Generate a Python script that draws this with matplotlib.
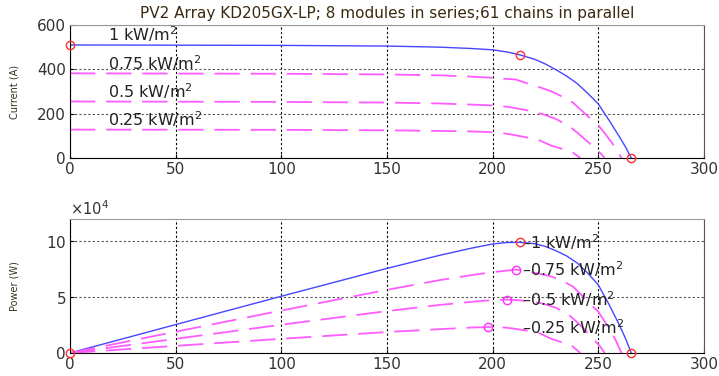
import numpy as np
import matplotlib
matplotlib.use('Agg')
import matplotlib.pyplot as plt
from matplotlib.ticker import ScalarFormatter

# I-V and P-V curves of the array at four irradiance levels
v_1000 = [0, 50, 100, 150, 175, 190, 200, 207, 213, 220, 225, 230, 235, 240, 245, 250, 255, 260, 263, 265.6]
i_1000 = [510, 509, 508, 505, 500, 494, 488, 478, 465, 445, 424, 398, 370, 336, 292, 244, 172, 96, 48, 0]
p_1000 = [0, 25450, 50800, 75750, 87500, 93860, 97600, 98950, 99045, 97900, 95400, 91540, 86950, 80640,
          71540, 61000, 43860, 24960, 12620, 0]

v_750 = [0, 50, 100, 150, 175, 190, 200, 205, 211, 216, 222, 228, 234, 238, 242, 246, 250, 254, 258, 261]
i_750 = [382, 381, 380, 377, 373, 367, 362, 358, 354, 338, 320, 300, 272, 250, 215, 180, 148, 100, 48, 0]
p_750 = [0, 19050, 38000, 56550, 65275, 69730, 72400, 73390, 74694, 73008, 71040, 68400, 63648, 59500,
         52030, 44280, 37000, 25400, 12384, 0]

v_500 = [0, 50, 100, 150, 175, 190, 200, 207, 212, 218, 224, 230, 236, 240, 244, 248, 251, 253]
i_500 = [255, 254, 253, 250, 246, 241, 237, 231, 223, 212, 197, 176, 145, 115, 82, 48, 22, 0]
p_500 = [0, 12700, 25300, 37500, 43050, 45790, 47400, 47817, 47276, 46216, 44128, 40480, 34220, 27600,
         20008, 11904, 5522, 0]

v_250 = [0, 50, 100, 150, 175, 190, 198, 205, 210, 216, 222, 228, 234, 238, 241.5]
i_250 = [128, 127.5, 127, 125, 122, 120, 117, 112, 104, 93, 80, 55, 38, 24, 0]
p_250 = [0, 6375, 12700, 18750, 21350, 22800, 23166, 22960, 21840, 20088, 17760, 12540, 8892, 5712, 0]

labels = ['1 kW/m$^2$', '0.75 kW/m$^2$', '0.5 kW/m$^2$', '0.25 kW/m$^2$']
curves = [(v_1000, i_1000, p_1000), (v_750, i_750, p_750), (v_500, i_500, p_500), (v_250, i_250, p_250)]

plt.rcParams['font.family'] = 'DejaVu Sans'

fig = plt.figure(figsize=(7.19, 3.76), dpi=100)
ax1 = fig.add_axes([0.0974, 0.5798, 0.8816, 0.3537])
ax2 = fig.add_axes([0.0974, 0.0612, 0.8816, 0.3564])

blue = '#4646ff'
mag = '#ff5cff'

for k, (v, i, p) in enumerate(curves):
    if k == 0:
        ax1.plot(v, i, color=blue, lw=1.0)
        ax2.plot(v, p, color=blue, lw=1.0)
    else:
        ax1.plot(v, i, color=mag, lw=1.3, dashes=(14, 6))
        ax2.plot(v, p, color=mag, lw=1.3, dashes=(14, 6))

    # maximum power point
    m = int(np.argmax(p))
    if k == 0:
        # short circuit, MPP and open circuit points
        for idx in [0, m, len(v) - 1]:
            ax1.plot(v[idx], i[idx], 'o', mfc='none', mec='#ff3030', ms=6, mew=1, clip_on=False, zorder=5)
            ax2.plot(v[idx], p[idx], 'o', mfc='none', mec='#ff3030', ms=6, mew=1, clip_on=False, zorder=5)
    else:
        ax2.plot(v[m], p[m], 'o', mfc='none', mec='#ff30ff', ms=6, mew=1, zorder=5)

    ax1.text(18, i[0] + 16, labels[k], fontsize=11.5, color='#222222', va='baseline', ha='left')
    ax2.text(214, p[m], '\u2013' + labels[k], fontsize=11.5, color='#222222', va='center', ha='left')

ax1.set_xlim(0, 300)
ax1.set_ylim(0, 600)
ax1.set_yticks([0, 200, 400, 600])
ax2.set_xlim(0, 300)
ax2.set_ylim(0, 120000)
ax2.set_yticks([0, 50000, 100000])

# show power ticks in units of 10^4
fmt = ScalarFormatter(useMathText=True)
fmt.set_powerlimits((4, 4))
ax2.yaxis.set_major_formatter(fmt)
ax2.yaxis.get_offset_text().set_fontsize(10.5)
ax2.yaxis.get_offset_text().set_color('#333333')

for ax in (ax1, ax2):
    ax.set_xticks(range(0, 301, 50))
    ax.tick_params(direction='in', length=3, labelsize=11, labelcolor='#333333', pad=3)
    ax.xaxis.grid(True, color='k', linestyle=(0, (2, 2)), lw=0.8)
    ax.yaxis.grid(True, color='#555555', linestyle=(0, (2, 2)), lw=0.8)
    ax.set_axisbelow(True)
    ax.spines['top'].set_color('#999999')
    ax.spines['right'].set_color('#555555')
    ax.yaxis.set_label_coords(-0.08, 0.5)

ax1.set_ylabel('Current (A)', fontsize=7, color='#3a3020')
ax2.set_ylabel('Power (W)', fontsize=7, color='#3a3020')
ax1.set_title('PV2 Array KD205GX-LP; 8 modules in series;61 chains in parallel',
              fontsize=11, color='#3a2a10', pad=5)

fig.savefig('out.png', dpi=100)
